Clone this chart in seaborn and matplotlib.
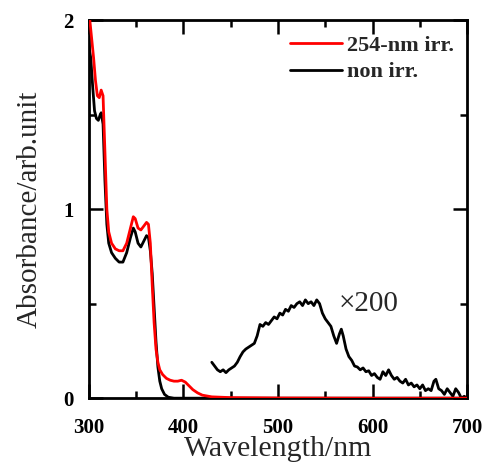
import matplotlib
matplotlib.use("Agg")
import matplotlib.pyplot as plt
import seaborn as sns
import pandas as pd
from matplotlib.ticker import MultipleLocator

# ---- data ----
wl_irr = [300, 303, 305, 307, 309, 311, 313, 315, 317, 319, 321, 324, 328, 332, 336, 340, 344, 347, 349,
          352, 355, 358, 361, 363, 365, 367, 369, 371, 373, 375, 378, 382, 386, 390, 394, 398, 402, 406,
          410, 415, 420, 430, 450, 500, 600, 700]
abs_irr = [2.05, 1.90, 1.80, 1.68, 1.60, 1.59, 1.63, 1.60, 1.30, 1.00, 0.88, 0.82, 0.79, 0.78, 0.78, 0.82,
           0.90, 0.96, 0.95, 0.90, 0.89, 0.91, 0.93, 0.92, 0.82, 0.60, 0.40, 0.26, 0.19, 0.15, 0.125, 0.105,
           0.095, 0.09, 0.09, 0.095, 0.085, 0.065, 0.045, 0.028, 0.016, 0.007, 0.003, 0.001, 0.0, 0.0]

wl_non = [300, 302, 304, 306, 308, 310, 312, 313, 315, 317, 319, 321, 324, 328, 332, 336, 340, 344, 347,
          349, 352, 355, 358, 361, 363, 365, 367, 369, 371, 373, 375, 377, 380, 384, 390, 700]
abs_non = [1.86, 1.80, 1.65, 1.52, 1.48, 1.47, 1.50, 1.51, 1.45, 1.15, 0.92, 0.82, 0.77, 0.74, 0.72, 0.72,
           0.77, 0.85, 0.90, 0.88, 0.82, 0.80, 0.83, 0.86, 0.85, 0.78, 0.66, 0.48, 0.30, 0.165, 0.09, 0.05,
           0.02, 0.005, 0.0, 0.0]

wl_x200 = [430, 433, 436, 439, 442, 445, 448, 451, 454, 457, 460, 463, 466, 469, 472, 475, 478, 481, 484,
           487, 490, 493, 496, 499, 502, 505, 508, 511, 514, 517, 520, 523, 526, 529, 532, 535, 538, 541,
           544, 547, 550, 553, 556, 559, 562, 565, 567, 569, 572, 575, 578, 581, 584, 587, 590, 593, 596,
           599, 602, 605, 608, 611, 614, 617, 620, 623, 626, 629, 632, 635, 638, 641, 644, 647, 650, 653,
           656, 659, 662, 665, 667, 670, 673, 676, 679, 682, 685, 688, 691, 694, 697, 700]
abs_x200 = [0.19, 0.17, 0.15, 0.14, 0.15, 0.135, 0.15, 0.16, 0.17, 0.19, 0.22, 0.245, 0.26, 0.27, 0.28,
            0.29, 0.33, 0.39, 0.38, 0.40, 0.39, 0.41, 0.43, 0.42, 0.45, 0.44, 0.47, 0.46, 0.49, 0.48, 0.50,
            0.51, 0.49, 0.52, 0.50, 0.51, 0.49, 0.52, 0.50, 0.45, 0.42, 0.40, 0.38, 0.33, 0.29, 0.34, 0.365,
            0.33, 0.26, 0.22, 0.20, 0.17, 0.165, 0.15, 0.16, 0.14, 0.145, 0.12, 0.13, 0.11, 0.10, 0.14, 0.12,
            0.15, 0.12, 0.10, 0.11, 0.09, 0.08, 0.10, 0.07, 0.08, 0.06, 0.07, 0.05, 0.07, 0.04, 0.05, 0.04,
            0.09, 0.10, 0.05, 0.04, 0.02, 0.05, 0.03, 0.01, 0.05, 0.03, 0.0, 0.01, 0.0]

labels = ["254-nm irr.", "non irr."]
x_ticks = [300, 400, 500, 600, 700]
y_ticks = [0, 1, 2]

# ---- style ----
sns.set_style("ticks")
plt.rcParams["font.family"] = ["Liberation Serif", "DejaVu Serif"]

fig = plt.figure(figsize=(4.83, 4.69), dpi=100)
ax = fig.add_axes([0.184, 0.151, 0.783, 0.806])

df_non = pd.DataFrame({"wl": wl_non, "a": abs_non})
df_irr = pd.DataFrame({"wl": wl_irr, "a": abs_irr})
df_x200 = pd.DataFrame({"wl": wl_x200, "a": abs_x200})

sns.lineplot(data=df_non, x="wl", y="a", ax=ax, color="black", lw=2.0, label=labels[1], zorder=2)
sns.lineplot(data=df_irr, x="wl", y="a", ax=ax, color="#ff0000", lw=2.0, label=labels[0], zorder=3)
sns.lineplot(data=df_x200, x="wl", y="a", ax=ax, color="black", lw=2.0, zorder=2)

ax.set_xlim(300, 700)
ax.set_ylim(0, 2)
ax.set_xticks(x_ticks)
ax.set_yticks(y_ticks)
ax.xaxis.set_minor_locator(MultipleLocator(50))
ax.yaxis.set_minor_locator(MultipleLocator(0.5))
ax.tick_params(which="both", direction="in", top=True, right=True, width=1.8, colors="black")
ax.tick_params(which="major", length=10, labelsize=15)
ax.tick_params(axis="x", which="major", pad=14)
ax.tick_params(axis="y", which="major", pad=11)
ax.tick_params(which="minor", length=5)
for lab in ax.get_xticklabels() + ax.get_yticklabels():
    lab.set_fontweight("bold")
for s in ax.spines.values():
    s.set_linewidth(2.0)
    s.set_color("black")

ax.set_xlabel("Wavelength/nm", fontsize=21.5, labelpad=-1)
ax.set_ylabel("Absorbance/arb.unit", fontsize=21, labelpad=15)

ax.text(596, 0.5, "\u00d7200", fontsize=21, ha="center", va="center")

handles, lbls = ax.get_legend_handles_labels()
order = [lbls.index(labels[0]), lbls.index(labels[1])]
leg = ax.legend([handles[i] for i in order], [lbls[i] for i in order], loc="upper right",
                bbox_to_anchor=(0.995, 0.99), frameon=False,
                prop={"weight": "bold", "size": 16}, handlelength=2.3,
                handletextpad=0.25, labelspacing=0.28, borderaxespad=0.2, borderpad=0.3)

fig.savefig("out.png", dpi=100)
